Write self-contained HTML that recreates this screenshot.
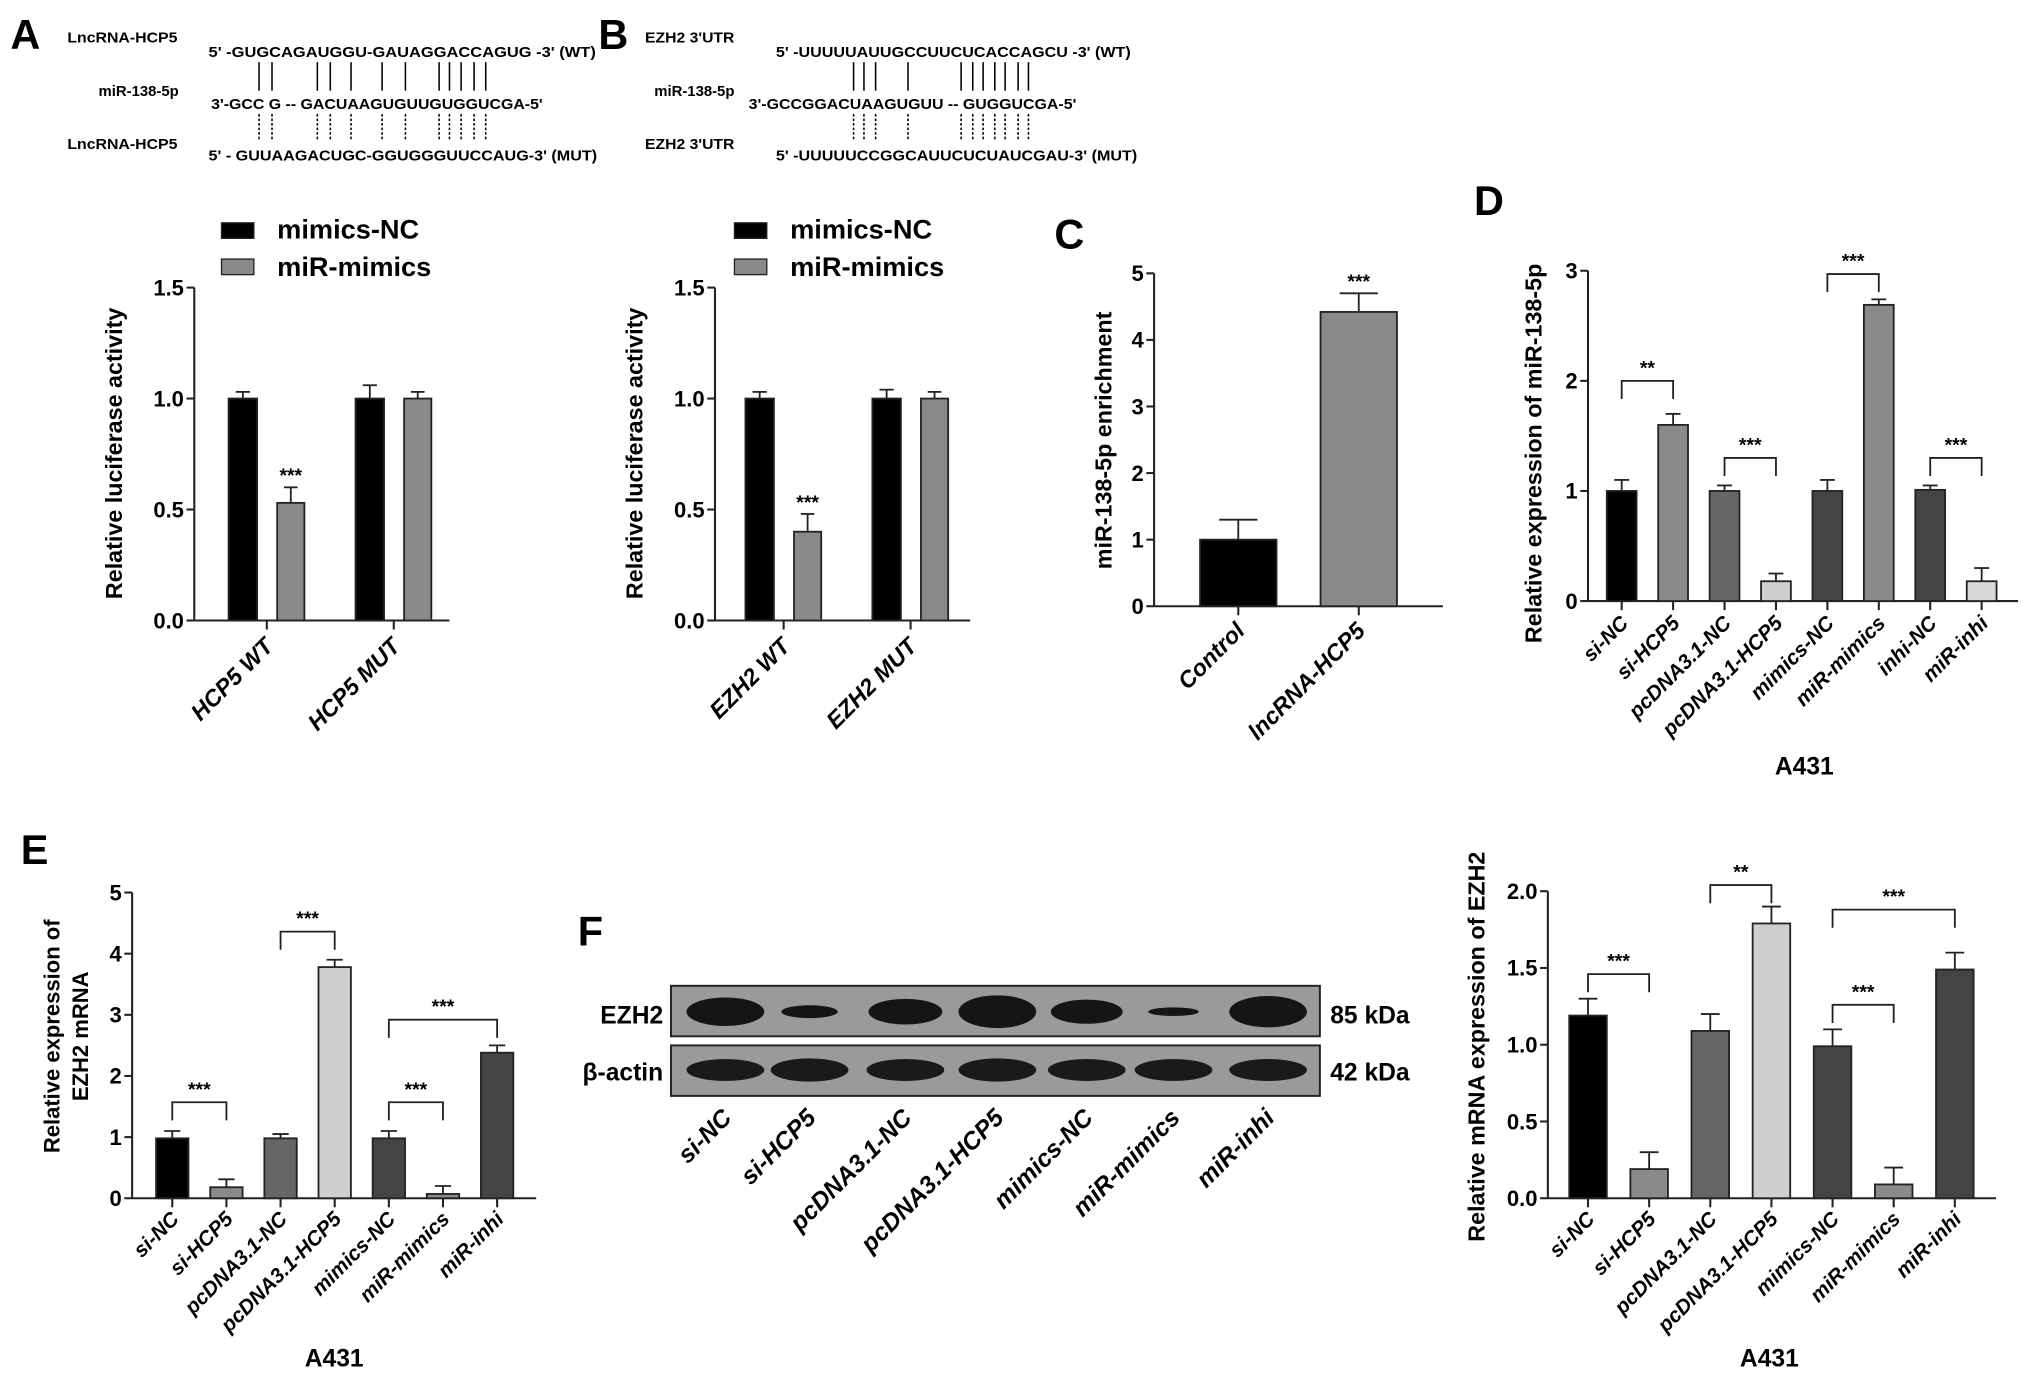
<!DOCTYPE html>
<html><head><meta charset="utf-8"><style>
html,body{margin:0;padding:0;background:#fff;}
svg{display:block;font-family:"Liberation Sans",Arial,sans-serif;}
</style></head><body>
<svg id="fig" width="2031" height="1377" viewBox="0 0 1568 1063" preserveAspectRatio="none" xmlns="http://www.w3.org/2000/svg">
<g font-weight="bold" fill="#000">
<text x="8" y="38" font-size="32">A</text>
<text x="462" y="38" font-size="32">B</text>
<text x="814" y="192" font-size="32">C</text>
<text x="1138" y="166" font-size="32">D</text>
<text x="16" y="667" font-size="32">E</text>
<text x="446" y="730" font-size="32">F</text>
</g>
<g font-size="11.5" font-weight="bold">
<text x="52" y="33" textLength="85" lengthAdjust="spacingAndGlyphs">LncRNA-HCP5</text>
<text x="161" y="44" textLength="299" lengthAdjust="spacingAndGlyphs">5' -GUGCAGAUGGU-GAUAGGACCAGUG -3'  (WT)</text>
<text x="138" y="74" text-anchor="end">miR-138-5p</text>
<text x="163" y="84" textLength="256" lengthAdjust="spacingAndGlyphs">3'-GCC G -- GACUAAGUGUUGUGGUCGA-5'</text>
<text x="52" y="115" textLength="85" lengthAdjust="spacingAndGlyphs">LncRNA-HCP5</text>
<text x="161" y="124" textLength="300" lengthAdjust="spacingAndGlyphs">5' - GUUAAGACUGC-GGUGGGUUCCAUG-3'  (MUT)</text>
</g>
<g font-size="11.5" font-weight="bold">
<text x="498" y="33" textLength="69" lengthAdjust="spacingAndGlyphs">EZH2 3'UTR</text>
<text x="599" y="44" textLength="274" lengthAdjust="spacingAndGlyphs">5' -UUUUUAUUGCCUUCUCACCAGCU -3'  (WT)</text>
<text x="567" y="74" text-anchor="end">miR-138-5p</text>
<text x="578" y="84" textLength="253" lengthAdjust="spacingAndGlyphs">3'-GCCGGACUAAGUGUU -- GUGGUCGA-5'</text>
<text x="498" y="115" textLength="69" lengthAdjust="spacingAndGlyphs">EZH2 3'UTR</text>
<text x="599" y="124" textLength="279" lengthAdjust="spacingAndGlyphs">5' -UUUUUCCGGCAUUCUCUAUCGAU-3'  (MUT)</text>
</g>
<g id="pairs" stroke="#000" stroke-width="1.2"></g>
<g id="charts"></g>
<g>
<rect x="518" y="761" width="501" height="39" fill="#9a9a9a" stroke="#222" stroke-width="1.5"/>
<rect x="518" y="807" width="501" height="39" fill="#9a9a9a" stroke="#222" stroke-width="1.5"/>
<g id="bands"></g>
<text x="512" y="790" font-size="19" font-weight="bold" text-anchor="end">EZH2</text>
<text x="512" y="834" font-size="19" font-weight="bold" text-anchor="end">β-actin</text>
<text x="1027" y="790" font-size="19" font-weight="bold">85 kDa</text>
<text x="1027" y="834" font-size="19" font-weight="bold">42 kDa</text>
</g>
</svg>
<script>
const NS='http://www.w3.org/2000/svg';
// ---- data ----
const catA=['HCP5 WT','HCP5 MUT'];
const ncA=[1.0,1.0], ncAErr=[0.03,0.06];
const mimA=[0.53,1.0], mimAErr=[0.07,0.03];
const catB=['EZH2 WT','EZH2 MUT'];
const ncB=[1.0,1.0], ncBErr=[0.03,0.04];
const mimB=[0.40,1.0], mimBErr=[0.08,0.03];
const ticksAB=[0,0.5,1.0,1.5];
const tickLabelsAB=['0.0','0.5','1.0','1.5'];
const catC=['Control','lncRNA-HCP5'];
const valC=[1.0,4.42], errC=[0.3,0.28];
const ticksC=[0,1,2,3,4,5];
const catD=['si-NC','si-HCP5','pcDNA3.1-NC','pcDNA3.1-HCP5','mimics-NC','miR-mimics','inhi-NC','miR-inhi'];
const valD=[1.0,1.6,1.0,0.18,1.0,2.69,1.01,0.18];
const errD=[0.1,0.1,0.05,0.07,0.1,0.05,0.04,0.12];
const ticksD=[0,1,2,3];
const catE=['si-NC','si-HCP5','pcDNA3.1-NC','pcDNA3.1-HCP5','mimics-NC','miR-mimics','miR-inhi'];
const valE=[0.98,0.18,0.98,3.78,0.98,0.07,2.38];
const errE=[0.12,0.13,0.07,0.12,0.12,0.13,0.12];
const ticksE=[0,1,2,3,4,5];
const valG=[1.19,0.19,1.09,1.79,0.99,0.09,1.49];
const errG=[0.11,0.11,0.11,0.11,0.11,0.11,0.11];
const ticksG=[0,0.5,1.0,1.5,2.0];
const tickLabelsG=['0.0','0.5','1.0','1.5','2.0'];
const bandEZH2=[1.0,0.45,0.9,1.15,0.85,0.3,1.1];
const bandActin=[0.85,0.9,0.85,0.9,0.85,0.85,0.85];

const colors7=['#000','#8a8a8a','#666','#cfcfcf','#444','#8a8a8a','#444'];
const colorsD=['#000','#8a8a8a','#666','#cfcfcf','#444','#8a8a8a','#444','#d8d8d8'];

function mk(tag,attrs,parent,text){const e=document.createElementNS(NS,tag);for(const k in attrs)e.setAttribute(k,attrs[k]);if(text!==undefined)e.textContent=text;parent.appendChild(e);return e;}
const root=document.getElementById('charts');

const pairs=document.getElementById('pairs');
[200,210,245,255,271,295,313,339,347,356,366,375,659,667,676,701,742,751,759,768,776,786,794].forEach(x=>{
  mk('line',{x1:x,x2:x,y1:48,y2:70},pairs);
  mk('line',{x1:x,x2:x,y1:88,y2:108,'stroke-dasharray':'2,1.5'},pairs);
});

function axes(g,c){
  const ys=v=>c.y0-(v/c.max)*(c.y0-c.yTop);
  mk('line',{x1:c.ax,x2:c.ax,y1:c.y0,y2:c.yTop,stroke:'#222','stroke-width':1.6},g);
  mk('line',{x1:c.ax,x2:c.axEnd,y1:c.y0,y2:c.y0,stroke:'#222','stroke-width':1.6},g);
  c.ticks.forEach((t,i)=>{
    mk('line',{x1:c.ax-6,x2:c.ax,y1:ys(t),y2:ys(t),stroke:'#222','stroke-width':1.6},g);
    const tl=mk('text',{x:c.ax-8,y:ys(t)+6,'font-size':17,'font-weight':'bold','text-anchor':'end'},g,c.tickLabels?c.tickLabels[i]:String(t));
    
    
  });
  const yl=mk('text',{transform:`translate(${c.ylx},${c.yly}) rotate(-90)`,'font-size':c.ylfs||18,'font-weight':'bold','text-anchor':'middle'},g,c.ylabel);
  
  
  if(c.ylabel2){mk('text',{transform:`translate(${c.ylx+22},${c.yly}) rotate(-90)`,'font-size':c.ylfs||18,'font-weight':'bold','text-anchor':'middle'},g,c.ylabel2);}
  return ys;
}
function bar(g,ys,cx,w,v,e,fill,y0){
  const r=mk('rect',{x:cx-w/2,y:ys(v),width:w,height:y0-ys(v),fill:fill,stroke:'#222','stroke-width':1.4},g);
  
  
  const top=ys(v+e);
  mk('line',{x1:cx,x2:cx,y1:ys(v),y2:top,stroke:'#222','stroke-width':1.4},g);
  mk('line',{x1:cx-w/4,x2:cx+w/4,y1:top,y2:top,stroke:'#222','stroke-width':1.4},g);
}
function xlabel(g,cx,y,txt,fs){
  const t=mk('text',{transform:`translate(${cx+6},${y}) rotate(-45)`,'font-size':fs||17,'font-weight':'bold','font-style':'italic','text-anchor':'end'},g,txt);
  
  
}
function bracket(g,ys,x1,x2,v,label,drop){
  const y=ys(v);
  mk('path',{d:`M${x1},${y+drop}V${y}H${x2}V${y+drop}`,fill:'none',stroke:'#222','stroke-width':1.4},g);
  const t=mk('text',{x:(x1+x2)/2,y:y-5,'font-size':15,'font-weight':'bold','text-anchor':'middle'},g,label);
  
  
}
function legend(g,x,y){
  mk('rect',{x:x,y:y-11,width:25,height:12,fill:'#000',stroke:'#222'},g);
  mk('text',{x:x+43,y:y+1,'font-size':21,'font-weight':'bold'},g,'mimics-NC');
  mk('rect',{x:x,y:y+17,width:25,height:12,fill:'#8a8a8a',stroke:'#222'},g);
  mk('text',{x:x+43,y:y+30,'font-size':21,'font-weight':'bold'},g,'miR-mimics');
}

function grouped(name,ax,axEnd,centers,cats,nc,ncE,mm,mmE,lx){
  const g=mk('g',{},root);
  const c={ax:ax,axEnd:axEnd,y0:479,yTop:222,max:1.5,ticks:ticksAB,tickLabels:tickLabelsAB,ylabel:'Relative luciferase activity',ylx:ax-56,yly:350};
  const ys=axes(g,c);
  legend(g,lx,183);
  cats.forEach((cat,i)=>{
    const cx=centers[i];
    mk('line',{x1:cx,x2:cx,y1:479,y2:486,stroke:'#222','stroke-width':1.6},g);
    bar(g,ys,cx-18.5,22,nc[i],ncE[i],'#000',479);
    bar(g,ys,cx+18.5,21,mm[i],mmE[i],'#8a8a8a',479);
    if(i===0) mk('text',{x:cx+18.5,y:ys(mm[i]+mmE[i])-4,'font-size':15,'font-weight':'bold','text-anchor':'middle'},g,'***');
    xlabel(g,cx,500,cat,18);
  });
}
grouped('chart-a',150,347,[206,304],catA,ncA,ncAErr,mimA,mimAErr,171);
grouped('chart-b',552,749,[605,703],catB,ncB,ncBErr,mimB,mimBErr,567);

(function(){
  const g=mk('g',{},root);
  const c={ax:891,axEnd:1114,y0:468,yTop:211,max:5,ticks:ticksC,ylabel:'miR-138-5p enrichment',ylx:858,yly:340};
  const ys=axes(g,c);
  catC.forEach((cat,i)=>{
    const cx=956+i*93;
    mk('line',{x1:cx,x2:cx,y1:468,y2:475,stroke:'#222','stroke-width':1.6},g);
    bar(g,ys,cx,59,valC[i],errC[i],i?'#8a8a8a':'#000',468);
    xlabel(g,cx,488,cat,18);
  });
  mk('text',{x:1049,y:ys(valC[1]+errC[1])-4,'font-size':15,'font-weight':'bold','text-anchor':'middle'},g,'***');
})();

(function(){
  const g=mk('g',{},root);
  const c={ax:1226,axEnd:1558,y0:464,yTop:209,max:3,ticks:ticksD,ylabel:'Relative expression of miR-138-5p',ylx:1190,yly:350};
  const ys=axes(g,c);
  const xs=i=>1252+i*39.7;
  catD.forEach((cat,i)=>{
    mk('line',{x1:xs(i),x2:xs(i),y1:464,y2:471,stroke:'#222','stroke-width':1.6},g);
    bar(g,ys,xs(i),23,valD[i],errD[i],colorsD[i],464);
    xlabel(g,xs(i),482,cat,16);
  });
  bracket(g,ys,xs(0),xs(1),2.0,'**',14);
  bracket(g,ys,xs(2),xs(3),1.3,'***',14);
  bracket(g,ys,xs(4),xs(5),2.97,'***',14);
  bracket(g,ys,xs(6),xs(7),1.3,'***',14);
  mk('text',{x:1393,y:598,'font-size':19,'font-weight':'bold','text-anchor':'middle'},g,'A431');
})();

(function(){
  const g=mk('g',{},root);
  const c={ax:102,axEnd:414,y0:925,yTop:689,max:5,ticks:ticksE,ylabel:'Relative expression of',ylabel2:'EZH2 mRNA',ylx:46,yly:800,ylfs:17};
  const ys=axes(g,c);
  const xs=i=>133+i*41.8;
  catE.forEach((cat,i)=>{
    mk('line',{x1:xs(i),x2:xs(i),y1:925,y2:932,stroke:'#222','stroke-width':1.6},g);
    bar(g,ys,xs(i),25,valE[i],errE[i],colors7[i],925);
    xlabel(g,xs(i),942,cat,16);
  });
  bracket(g,ys,xs(0),xs(1),1.57,'***',14);
  bracket(g,ys,xs(2),xs(3),4.36,'***',14);
  bracket(g,ys,xs(4),xs(5),1.57,'***',14);
  bracket(g,ys,xs(4),xs(6),2.92,'***',14);
  mk('text',{x:258,y:1055,'font-size':19,'font-weight':'bold','text-anchor':'middle'},g,'A431');
})();

(function(){
  const b=document.getElementById('bands');
  const lanes=[560,625,699,770,839,906,979];
  lanes.forEach((cx,i)=>{
    const e=mk('ellipse',{cx:cx,cy:781,rx:30*Math.min(1,0.5+bandEZH2[i]/2),ry:11*bandEZH2[i],fill:'#151515'},b);
    
    
    const a=mk('ellipse',{cx:cx,cy:826,rx:30,ry:10*bandActin[i],fill:'#1a1a1a'},b);
    
    
    xlabel(b,cx,864,catE[i],19);
  });
})();

(function(){
  const g=mk('g',{},root);
  const c={ax:1195,axEnd:1541,y0:925,yTop:688,max:2,ticks:ticksG,tickLabels:tickLabelsG,ylabel:'Relative mRNA expression of EZH2',ylx:1146,yly:808};
  const ys=axes(g,c);
  const xs=i=>1226+i*47.2;
  catE.forEach((cat,i)=>{
    mk('line',{x1:xs(i),x2:xs(i),y1:925,y2:932,stroke:'#222','stroke-width':1.6},g);
    bar(g,ys,xs(i),29,valG[i],errG[i],colors7[i],925);
    xlabel(g,xs(i),942,cat,16);
  });
  bracket(g,ys,xs(0),xs(1),1.46,'***',14);
  bracket(g,ys,xs(2),xs(3),2.04,'**',14);
  bracket(g,ys,xs(4),xs(6),1.88,'***',14);
  bracket(g,ys,xs(4),xs(5),1.26,'***',14);
  mk('text',{x:1366,y:1055,'font-size':19,'font-weight':'bold','text-anchor':'middle'},g,'A431');
})();
</script>
</body></html>
